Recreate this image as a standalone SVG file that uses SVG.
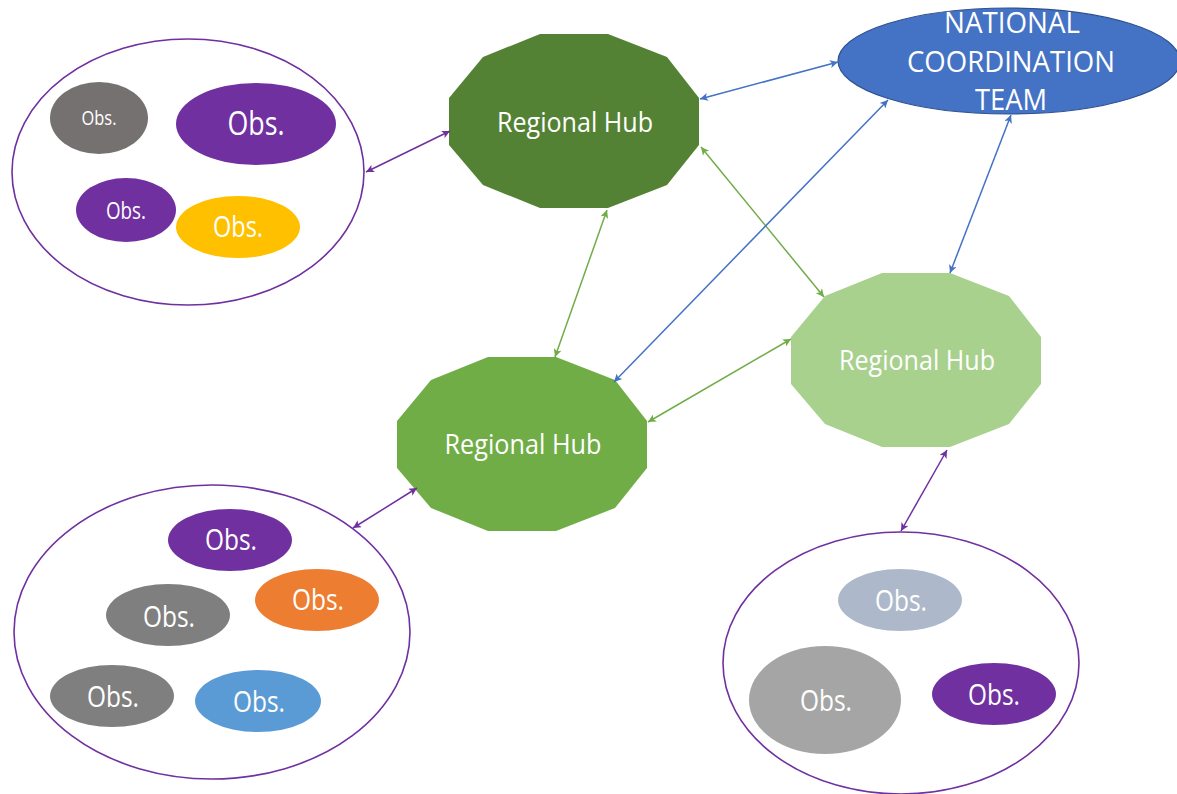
<svg xmlns="http://www.w3.org/2000/svg" width="1177" height="794" viewBox="0 0 1177 794">
<style>
text{font-family:"Open Sans","DejaVu Sans",sans-serif;fill:#fff;text-anchor:middle}
.grp{fill:#fff;stroke:#7030A0;stroke-width:1.6}
.c{fill:none;stroke-width:1.5}
.b{stroke:#4472C4;marker-start:url(#ab);marker-end:url(#ab)}
.g{stroke:#70AD47;marker-start:url(#ag);marker-end:url(#ag)}
.p{stroke:#7030A0;marker-start:url(#ap);marker-end:url(#ap)}
.hub{font-size:28px}
.nat{font-size:29px}
</style>
<defs>
<marker id="ab" viewBox="0 0 10 10" refX="10" refY="5" markerWidth="10" markerHeight="8" markerUnits="userSpaceOnUse" orient="auto-start-reverse"><path d="M0,0 L10,5 L0,10 L2.5,5 z" fill="#4472C4"/></marker>
<marker id="ag" viewBox="0 0 10 10" refX="10" refY="5" markerWidth="10" markerHeight="8" markerUnits="userSpaceOnUse" orient="auto-start-reverse"><path d="M0,0 L10,5 L0,10 L2.5,5 z" fill="#70AD47"/></marker>
<marker id="ap" viewBox="0 0 10 10" refX="10" refY="5" markerWidth="10" markerHeight="8" markerUnits="userSpaceOnUse" orient="auto-start-reverse"><path d="M0,0 L10,5 L0,10 L2.5,5 z" fill="#7030A0"/></marker>
</defs>
<rect width="1177" height="794" fill="#fff"/>

<g id="group1">
<ellipse class="grp" cx="188" cy="172" rx="176" ry="133"/>
<ellipse cx="99" cy="118" rx="49" ry="36" fill="#767171"/>
<text x="99" y="125" font-size="20" textLength="35" lengthAdjust="spacingAndGlyphs">Obs.</text>
<ellipse cx="256" cy="124" rx="80" ry="41" fill="#7030A0"/>
<text x="256" y="135" font-size="33" textLength="57" lengthAdjust="spacingAndGlyphs">Obs.</text>
<ellipse cx="126" cy="210" rx="50" ry="32" fill="#7030A0"/>
<text x="126" y="219" font-size="23" textLength="40" lengthAdjust="spacingAndGlyphs">Obs.</text>
<ellipse cx="238" cy="227" rx="62" ry="31" fill="#FFC000"/>
<text x="238" y="237" font-size="29" textLength="50" lengthAdjust="spacingAndGlyphs">Obs.</text>
</g>

<g id="group2">
<ellipse class="grp" cx="212" cy="632" rx="198" ry="147"/>
<ellipse cx="230" cy="540" rx="62" ry="31" fill="#7030A0"/>
<text x="231" y="550" font-size="30" textLength="52" lengthAdjust="spacingAndGlyphs">Obs.</text>
<ellipse cx="317" cy="600" rx="62" ry="31" fill="#ED7D31"/>
<text x="318" y="610" font-size="30" textLength="52" lengthAdjust="spacingAndGlyphs">Obs.</text>
<ellipse cx="168" cy="615" rx="62" ry="31" fill="#7F7F7F"/>
<text x="169" y="627" font-size="30" textLength="52" lengthAdjust="spacingAndGlyphs">Obs.</text>
<ellipse cx="112" cy="696" rx="62" ry="31" fill="#7F7F7F"/>
<text x="113" y="707" font-size="30" textLength="52" lengthAdjust="spacingAndGlyphs">Obs.</text>
<ellipse cx="258" cy="701" rx="63" ry="31" fill="#5B9BD5"/>
<text x="259" y="712" font-size="30" textLength="52" lengthAdjust="spacingAndGlyphs">Obs.</text>
</g>

<g id="group3">
<ellipse class="grp" cx="901" cy="663" rx="178" ry="131"/>
<ellipse cx="900" cy="600" rx="62" ry="31" fill="#ADB9CA"/>
<text x="901" y="611" font-size="30" textLength="52" lengthAdjust="spacingAndGlyphs">Obs.</text>
<ellipse cx="825" cy="700" rx="76" ry="54" fill="#A5A5A5"/>
<text x="826" y="711" font-size="30" textLength="52" lengthAdjust="spacingAndGlyphs">Obs.</text>
<ellipse cx="994" cy="694" rx="62" ry="31" fill="#7030A0"/>
<text x="994" y="705" font-size="30" textLength="52" lengthAdjust="spacingAndGlyphs">Obs.</text>
</g>

<g id="national">
<ellipse cx="1009" cy="61" rx="171" ry="53" fill="#4472C4" stroke="#2F528F" stroke-width="1.2"/>
<text class="nat" x="1012" y="33" textLength="136" lengthAdjust="spacingAndGlyphs">NATIONAL</text>
<text class="nat" x="1011" y="72" textLength="208" lengthAdjust="spacingAndGlyphs">COORDINATION</text>
<text class="nat" x="1011" y="110" textLength="72" lengthAdjust="spacingAndGlyphs">TEAM</text>
</g>

<g id="hub1">
<polygon points="540,34 608,34 667,57 699,98 699,145 667,185 608,208 540,208 483,185 449,145 449,98 483,57" fill="#548235"/>
<text class="hub" x="575" y="132" textLength="156" lengthAdjust="spacingAndGlyphs">Regional Hub</text>
</g>

<g id="hub2">
<polygon points="882,273 950,273 1009,296 1041,337 1041,384 1009,424 950,447 882,447 825,424 791,384 791,337 825,296" fill="#A9D18E"/>
<text class="hub" x="917" y="370" textLength="156" lengthAdjust="spacingAndGlyphs">Regional Hub</text>
</g>

<g id="hub3">
<polygon points="488,357 556,357 615,380 647,421 647,468 615,508 556,531 488,531 431,508 397,468 397,421 431,380" fill="#70AD47"/>
<text class="hub" x="523" y="454" textLength="157" lengthAdjust="spacingAndGlyphs">Regional Hub</text>
</g>

<g id="connectors">
<line class="c p" x1="366" y1="172" x2="450" y2="131"/>
<line class="c b" x1="700" y1="99" x2="838" y2="62"/>
<line class="c g" x1="701" y1="147" x2="824" y2="297"/>
<line class="c g" x1="607" y1="210" x2="555" y2="357"/>
<line class="c b" x1="888" y1="100" x2="614" y2="382"/>
<line class="c b" x1="1011" y1="115" x2="950" y2="273"/>
<line class="c g" x1="791" y1="339" x2="648" y2="422"/>
<line class="c p" x1="417" y1="488" x2="353" y2="528"/>
<line class="c p" x1="947" y1="450" x2="901" y2="531"/>
</g>
</svg>
